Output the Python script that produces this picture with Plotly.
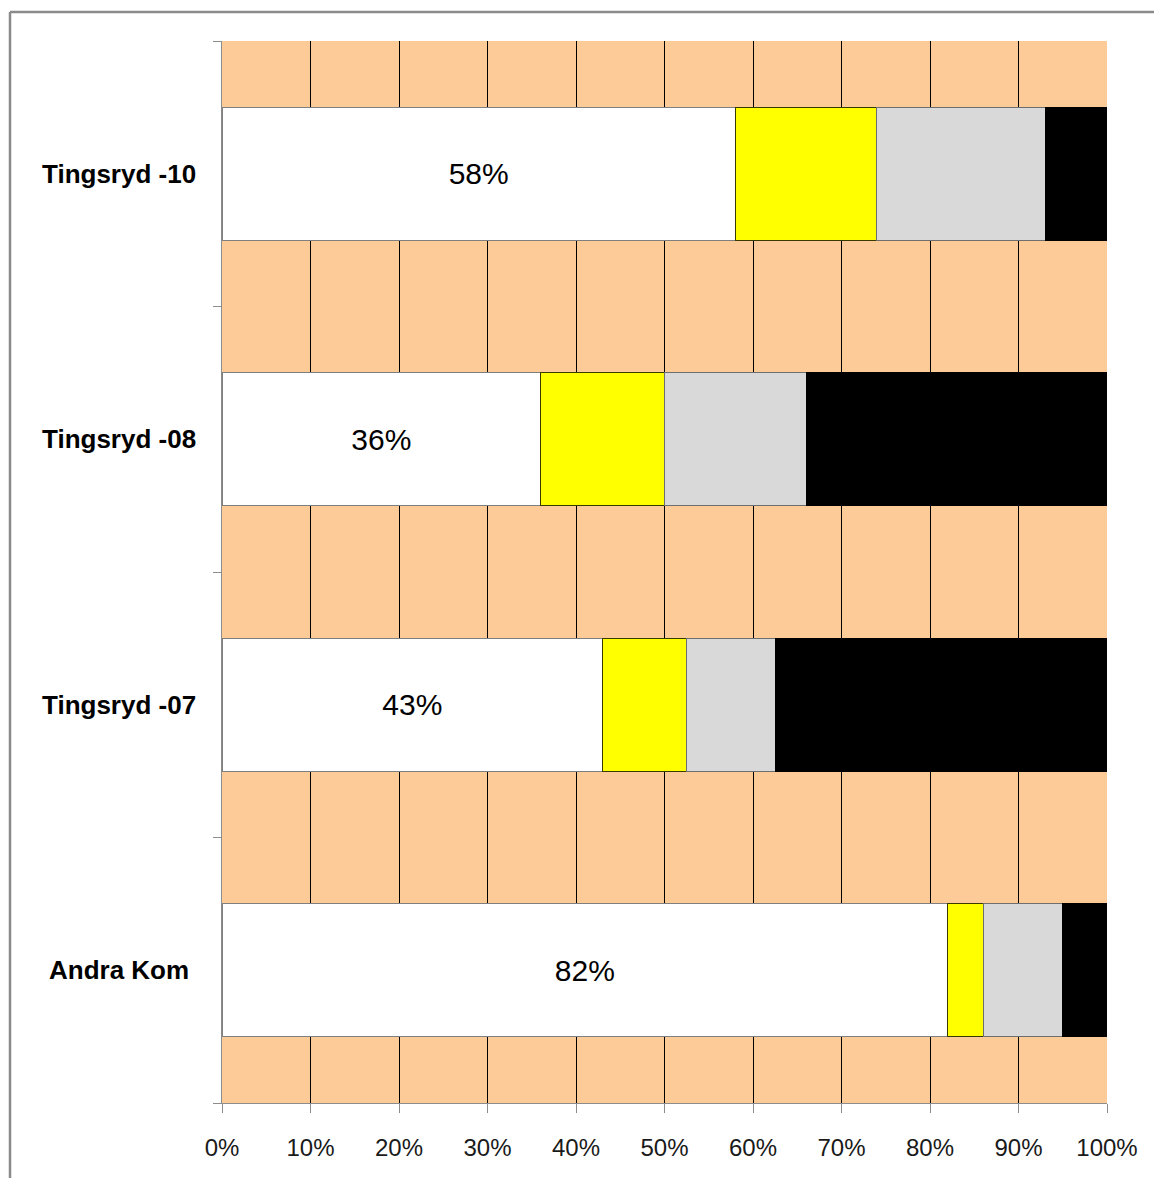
import plotly.graph_objects as go

# Categories, listed bottom to top as Plotly draws a categorical y axis
categories = ["Andra Kom", "Tingsryd -07", "Tingsryd -08", "Tingsryd -10"]

# Share of answers per group (percent), stacked left to right
white_share = [82, 43, 36, 58]
yellow_share = [4, 9.5, 14, 16]
grey_share = [9, 10, 16, 19]
black_share = [5, 37.5, 34, 7]

x_ticks = [0, 10, 20, 30, 40, 50, 60, 70, 80, 90, 100]
x_tick_labels = [f"{v}%" for v in x_ticks]

W, H = 1154, 1178
L, R, T, B = 222, 47, 41, 75

fig = go.Figure()

series = [
    (white_share, "#FFFFFF", "#7F7F7F", True),
    (yellow_share, "#FFFF00", "#3A3A00", False),
    (grey_share, "#D9D9D9", "#6E6E6E", False),
    (black_share, "#000000", "#000000", False),
]
for vals, fill, edge, labelled in series:
    fig.add_trace(go.Bar(
        y=categories,
        x=vals,
        orientation="h",
        marker=dict(color=fill, line=dict(color=edge, width=1)),
        text=[f"{v:.0f}%" for v in vals] if labelled else None,
        textposition="inside" if labelled else "none",
        insidetextanchor="middle",
        textangle=0,
        constraintext="none",
        textfont=dict(family="Liberation Sans, Arial, sans-serif", size=30, color="#000000"),
        hoverinfo="skip",
        showlegend=False,
    ))

# Category names as centred bold labels left of the axis
plot_w = W - L - R
label_x = (119 - L) / plot_w
for cat in categories:
    fig.add_annotation(
        x=label_x, xref="paper", y=cat, yref="y",
        text=f"<b>{cat}</b>", showarrow=False,
        xanchor="center", yanchor="middle",
        font=dict(family="Liberation Sans, Arial, sans-serif", size=26, color="#000000"),
    )

# Outer chart border (top and left edges visible)
plot_h = H - T - B
bx0 = (10 - L) / plot_w
by1 = (H - B - 12) / plot_h
fig.add_shape(type="line", xref="paper", yref="paper",
              x0=bx0, x1=1.3, y0=by1, y1=by1,
              line=dict(color="#8A8A8A", width=2.5))
fig.add_shape(type="line", xref="paper", yref="paper",
              x0=bx0, x1=bx0, y0=-0.2, y1=by1,
              line=dict(color="#8A8A8A", width=2.5))

fig.update_layout(
    width=W, height=H,
    margin=dict(l=L, r=R, t=T, b=B),
    barmode="stack",
    bargap=0.5,
    paper_bgcolor="#FFFFFF",
    plot_bgcolor="#FDCB98",
    xaxis=dict(
        range=[0, 100],
        tickvals=x_ticks,
        ticktext=x_tick_labels,
        showgrid=True, gridcolor="#000000", gridwidth=1,
        showline=True, linecolor="#8C8C8C", linewidth=1,
        ticks="outside", ticklen=9, tickcolor="#8C8C8C",
        ticklabelstandoff=14,
        tickfont=dict(family="Liberation Sans, Arial, sans-serif", size=24, color="#1A1A1A"),
        zeroline=False,
        fixedrange=True,
    ),
    yaxis=dict(
        categoryorder="array", categoryarray=categories,
        showticklabels=False,
        showgrid=False,
        showline=True, linecolor="#8C8C8C", linewidth=1,
        ticks="outside", ticklen=8, tickcolor="#8C8C8C",
        tickson="boundaries",
        zeroline=False,
        fixedrange=True,
    ),
)

fig.write_html("out.html")
